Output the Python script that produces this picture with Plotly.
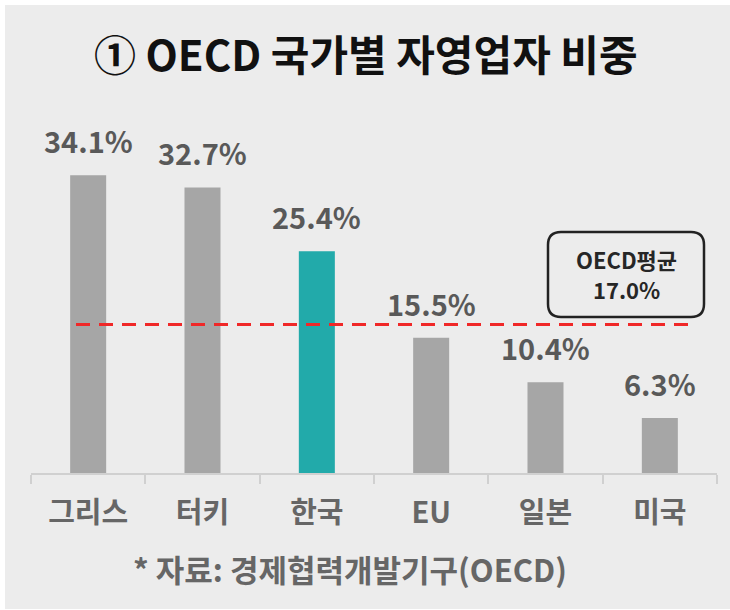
import plotly.graph_objects as go

categories = ["그리스", "터키", "한국", "EU", "일본", "미국"]
values = [34.1, 32.7, 25.4, 15.5, 10.4, 6.3]
bar_colors = ["#a6a6a6", "#a6a6a6", "#22aaaa", "#a6a6a6", "#a6a6a6", "#a6a6a6"]
oecd_avg = 17.0
title_text = "① OECD 국가별 자영업자 비중"
source_text = "* 자료: 경제협력개발기구(OECD)"
avg_label = "OECD평균"

W, H = 730, 610
L, R, T, B = 31, 13, 80, 137
PW, PH = W - L - R, H - T - B
FONT = "Noto Sans CJK KR"


def px(xp):
    return (xp - L) / PW


def py(yp):
    return (H - B - yp) / PH


fig = go.Figure()
fig.add_trace(go.Bar(
    x=categories, y=values, marker=dict(color=bar_colors, line=dict(width=0)),
    hoverinfo="skip",
))

shapes = []
# background panel
shapes.append(dict(type="rect", xref="paper", yref="paper", x0=px(5), x1=px(731),
                   y0=py(609), y1=py(5), fillcolor="#ececec", line=dict(width=0), layer="below"))
# average line
shapes.append(dict(type="line", xref="paper", yref="y", x0=px(76), x1=px(696), y0=oecd_avg, y1=oecd_avg,
                   line=dict(color="#f02828", width=3, dash="14px,9px")))

# rounded box
bx0, bx1, by0, by1, rr = 548, 704, 232, 317, 13
path = (f"M {px(bx0+rr)},{py(by0)} L {px(bx1-rr)},{py(by0)} "
        f"Q {px(bx1)},{py(by0)} {px(bx1)},{py(by0+rr)} "
        f"L {px(bx1)},{py(by1-rr)} Q {px(bx1)},{py(by1)} {px(bx1-rr)},{py(by1)} "
        f"L {px(bx0+rr)},{py(by1)} Q {px(bx0)},{py(by1)} {px(bx0)},{py(by1-rr)} "
        f"L {px(bx0)},{py(by0+rr)} Q {px(bx0)},{py(by0)} {px(bx0+rr)},{py(by0)} Z")
shapes.append(dict(type="path", xref="paper", yref="paper", path=path,
                   line=dict(color="#222222", width=2.5), fillcolor="rgba(0,0,0,0)"))

annotations = []
for c, v in zip(categories, values):
    annotations.append(dict(x=c, y=v, xref="x", yref="y", text=f"{v:.1f}%", showarrow=False,
                            xanchor="center", yanchor="bottom", yshift=12,
                            font=dict(family=FONT, size=29, color="#595959", weight="bold")))
box_cx = px((bx0 + bx1) / 2)
annotations.append(dict(x=box_cx, y=py(259), xref="paper", yref="paper",
                        text=avg_label, showarrow=False, xanchor="center", yanchor="middle",
                        font=dict(family=FONT, size=22, color="#262626", weight="bold")))
annotations.append(dict(x=box_cx, y=py(289), xref="paper", yref="paper",
                        text=f"{oecd_avg:.1f}%", showarrow=False, xanchor="center", yanchor="middle",
                        font=dict(family=FONT, size=22, color="#262626", weight="bold")))
annotations.append(dict(x=px(366), y=py(52), xref="paper", yref="paper", text=title_text,
                        showarrow=False, xanchor="center", yanchor="middle",
                        font=dict(family=FONT, size=42, color="#111111", weight="bold")))
annotations.append(dict(x=px(350), y=py(568), xref="paper", yref="paper", text=source_text,
                        showarrow=False, xanchor="center", yanchor="middle",
                        font=dict(family=FONT, size=31, color="#666666", weight="bold")))

fig.update_layout(
    width=W, height=H, margin=dict(l=L, r=R, t=T, b=B),
    paper_bgcolor="white", plot_bgcolor="rgba(0,0,0,0)",
    bargap=0.685, showlegend=False,
    shapes=shapes, annotations=annotations,
    xaxis=dict(showline=True, linecolor="#d0d0d0", linewidth=2, ticks="outside", tickson="boundaries",
               ticklen=9, tickwidth=2, tickcolor="#d0d0d0", showgrid=False, ticklabelstandoff=13,
               tickfont=dict(family=FONT, size=29, color="#666666", weight="bold")),
    yaxis=dict(range=[0, 45], visible=False, showgrid=False, zeroline=False),
)

fig.write_html("out.html", config={"displayModeBar": False},
               post_script="document.body.style.margin='0px';")
